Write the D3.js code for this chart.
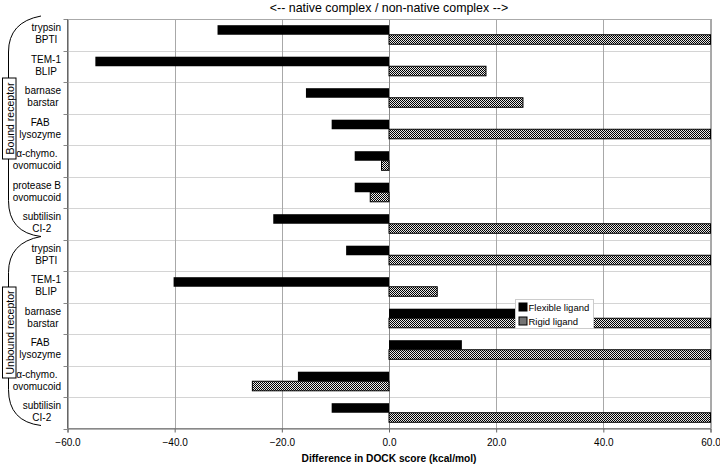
<!DOCTYPE html>
<html>
<head>
<meta charset="utf-8">
<script src="https://cdn.jsdelivr.net/npm/d3@7"></script>
<style>
  body { margin: 0; background: #fff; }
  svg { font-family: Arial, "Liberation Sans", Helvetica, sans-serif; }
</style>
</head>
<body>
<div id="chart"></div>
<script>
// category labels (two lines each), top to bottom
var labels_top = ["trypsin", "TEM-1", "barnase", "FAB", "\u03b1-chymo.", "protease B", "subtilisin",
                  "trypsin", "TEM-1", "barnase", "FAB", "\u03b1-chymo.", "subtilisin"];
var labels_bottom = ["BPTI", "BLIP", "barstar", "lysozyme", "ovomucoid", "ovomucoid", "CI-2",
                     "BPTI", "BLIP", "barstar", "lysozyme", "ovomucoid", "CI-2"];
var flexible = [-32.0, -54.8, -15.5, -10.7, -6.4, -6.4, -21.6,
                -8.0, -40.2, 26.0, 13.6, -17.0, -10.7];
var rigid = [60, 18.1, 25.0, 60, -1.4, -3.5, 60,
             60, 9.0, 60, 60, -25.5, 60];
var group_names = ["Bound receptor", "Unbound receptor"];
var group_ranges = [[0, 6], [7, 12]];
var x_ticks = [-60, -40, -20, 0, 20, 40, 60];
var series_names = ["Flexible ligand", "Rigid ligand"];

var svg_width = 720, svg_height = 465;
var margin = { top: 19, right: 10, bottom: 37, left: 67.5 };

var svg = d3.select("#chart").append("svg")
  .attr("width", svg_width)
  .attr("height", svg_height);

// checker pattern for the rigid bars
var defs = svg.append("defs");
var pat = defs.append("pattern")
  .attr("id", "checker")
  .attr("width", 2).attr("height", 2)
  .attr("patternUnits", "userSpaceOnUse");
pat.append("rect").attr("width", 2).attr("height", 2).attr("fill", "#e8e8e8");
pat.append("rect").attr("width", 1).attr("height", 1).attr("fill", "#000");
pat.append("rect").attr("x", 1).attr("y", 1).attr("width", 1).attr("height", 1).attr("fill", "#000");

var x_scale = d3.scaleLinear()
  .domain([-60, 60])
  .range([margin.left, 710.5]);

var y_scale = d3.scaleBand()
  .domain(d3.range(labels_top.length))
  .range([margin.top, 428.5]);

var bw = y_scale.bandwidth();
var sub = d3.scaleBand()
  .domain(["flex", "rigid"])
  .range([0, bw])
  .paddingInner(0)
  .paddingOuter(0.65);

// horizontal gridlines between categories
svg.append("g").selectAll("line")
  .data(d3.range(1, labels_top.length))
  .join("line")
  .attr("x1", x_scale(-60)).attr("x2", x_scale(60))
  .attr("y1", function(d) { return Math.round(y_scale(d)) + 0.5; })
  .attr("y2", function(d) { return Math.round(y_scale(d)) + 0.5; })
  .attr("stroke", "#d4d4d4");

// vertical gridlines
svg.append("g").selectAll("line")
  .data(x_ticks)
  .join("line")
  .attr("x1", function(d) { return Math.round(x_scale(d)) + 0.5; })
  .attr("x2", function(d) { return Math.round(x_scale(d)) + 0.5; })
  .attr("y1", margin.top).attr("y2", 428.5)
  .attr("stroke", function(d) { return d == 0 ? "#888" : "#a8a8a8"; });

// plot frame
svg.append("rect")
  .attr("x", x_scale(-60)).attr("y", margin.top + 0.5)
  .attr("width", x_scale(60) - x_scale(-60))
  .attr("height", 428 - margin.top)
  .attr("fill", "none")
  .attr("stroke", "#aaa");

// bars
var bars = svg.append("g");
bars.selectAll(".flex")
  .data(flexible)
  .join("rect")
  .attr("class", "flex")
  .attr("x", function(d) { return x_scale(Math.min(0, d)); })
  .attr("width", function(d) { return Math.abs(x_scale(d) - x_scale(0)); })
  .attr("y", function(d, i) { return y_scale(i) + sub("flex"); })
  .attr("height", sub.bandwidth())
  .attr("fill", "#000");

bars.selectAll(".rigid")
  .data(rigid)
  .join("rect")
  .attr("class", "rigid")
  .attr("x", function(d) { return x_scale(Math.min(0, d)); })
  .attr("width", function(d) { return Math.abs(x_scale(d) - x_scale(0)); })
  .attr("y", function(d, i) { return y_scale(i) + sub("rigid"); })
  .attr("height", sub.bandwidth())
  .attr("fill", "url(#checker)")
  .attr("stroke", "#000")
  .attr("stroke-width", 1);

// x axis
var x_axis = d3.axisBottom(x_scale)
  .tickValues(x_ticks)
  .tickSize(4)
  .tickFormat(d3.format(".1f"));
var xg = svg.append("g")
  .attr("transform", "translate(0, 428.5)")
  .call(x_axis);
xg.select(".domain").attr("stroke", "#666");
xg.selectAll(".tick line").attr("stroke", "#666");
xg.selectAll(".tick text")
  .attr("font-size", 10)
  .attr("font-family", "Arial, Liberation Sans, sans-serif")
  .attr("fill", "#000")
  .attr("dy", "1.05em");

// left axis line with ticks at band edges
svg.append("line")
  .attr("x1", x_scale(-60)).attr("x2", x_scale(-60))
  .attr("y1", margin.top).attr("y2", 428.5)
  .attr("stroke", "#666");
svg.append("g").selectAll("line")
  .data(d3.range(0, labels_top.length + 1))
  .join("line")
  .attr("x1", x_scale(-60) - 4).attr("x2", x_scale(-60))
  .attr("y1", function(d) { return Math.round(margin.top + d * bw) + 0.5; })
  .attr("y2", function(d) { return Math.round(margin.top + d * bw) + 0.5; })
  .attr("stroke", "#888");

// group brackets
var brackets = svg.append("g").attr("fill", "none").attr("stroke", "#000").attr("stroke-width", 1);
var boxes = [[78, 159], [287, 378]];
group_ranges.forEach(function(r, k) {
  var top = y_scale(r[0]) - 3;
  var bottom = y_scale(r[1]) + bw - 3;
  var bx = boxes[k];
  brackets.append("path")
    .attr("d", "M41," + top + " Q8.5," + (top + 6) + " 8.5," + (top + 36) + " L8.5," + bx[0]);
  brackets.append("path")
    .attr("d", "M8.5," + bx[1] + " L8.5," + (bottom - 36) + " Q8.5," + (bottom - 4) + " 41," + bottom);
  brackets.append("rect")
    .attr("x", 2.5).attr("y", bx[0])
    .attr("width", 13.5).attr("height", bx[1] - bx[0])
    .attr("fill", "#fff");
  svg.append("text")
    .attr("transform", "translate(13.5," + ((bx[0] + bx[1]) / 2) + ") rotate(-90)")
    .attr("text-anchor", "middle")
    .attr("font-size", 10.5)
    .text(group_names[k]);
});

// category labels
var lab = svg.append("g")
  .attr("font-size", 10)
  .attr("text-anchor", "middle");
labels_top.forEach(function(t, i) {
  var c = y_scale(i) + bw / 2;
  var g = lab.append("g");
  var t1 = g.append("text").attr("y", c - 3.5).text(t);
  var t2 = g.append("text").attr("y", c + 8.5).text(labels_bottom[i]);
  var w = Math.max(t1.node().getComputedTextLength(), t2.node().getComputedTextLength());
  g.attr("transform", "translate(" + (61 - w / 2) + ",0)");
});

// titles
svg.append("text")
  .attr("x", x_scale(0)).attr("y", 12)
  .attr("text-anchor", "middle")
  .attr("font-size", 12.4)
  .text("<-- native complex / non-native complex -->");

svg.append("text")
  .attr("x", x_scale(0)).attr("y", 462)
  .attr("text-anchor", "middle")
  .attr("font-size", 10.2)
  .attr("font-weight", "bold")
  .text("Difference in DOCK score (kcal/mol)");

// legend
var legend = svg.append("g").attr("transform", "translate(515.5, 299.5)");
legend.append("rect")
  .attr("width", 78).attr("height", 29)
  .attr("fill", "#fff").attr("stroke", "#ccc");
series_names.forEach(function(s, i) {
  legend.append("rect")
    .attr("x", 3.5).attr("y", 3.5 + i * 14)
    .attr("width", 8).attr("height", 8)
    .attr("fill", i == 0 ? "#000" : "url(#checker)")
    .attr("stroke", "#000");
  legend.append("text")
    .attr("x", 13).attr("y", 11.5 + i * 14)
    .attr("font-size", 9.5)
    .text(s);
});
</script>
</body>
</html>
